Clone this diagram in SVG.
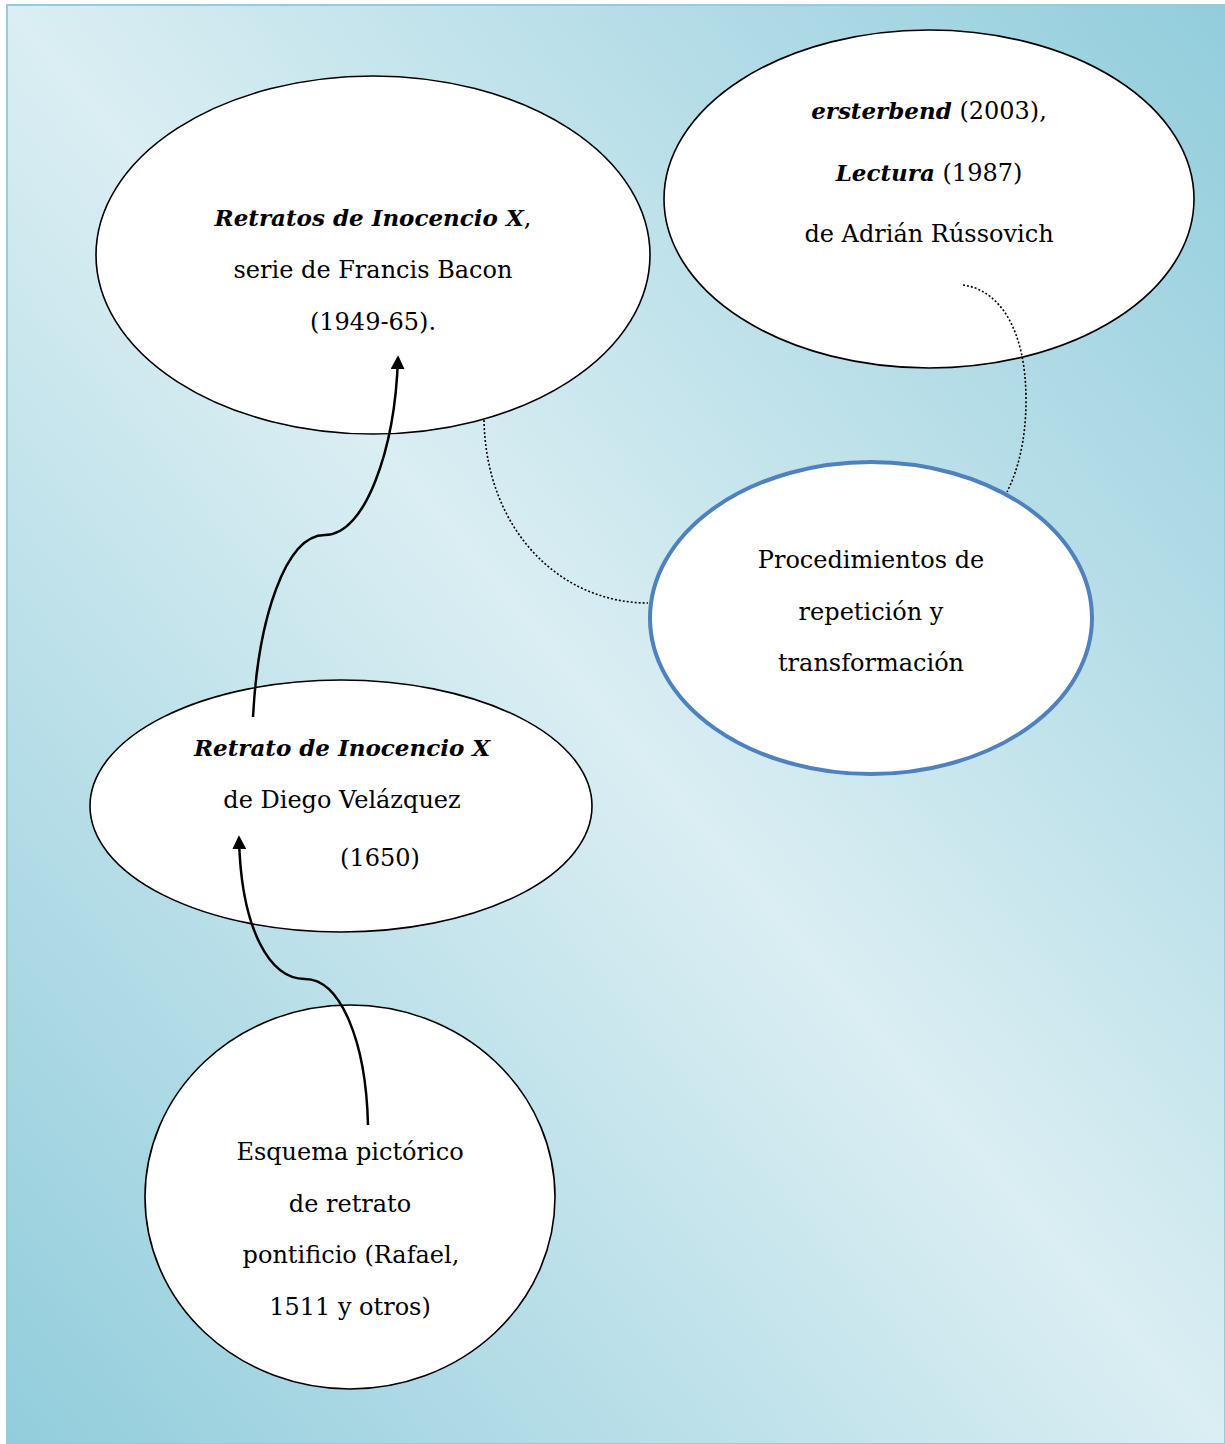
<svg xmlns="http://www.w3.org/2000/svg" width="1225" height="1444" viewBox="0 0 1225 1444">
<defs>
<linearGradient id="bg" x1="1" y1="0" x2="0" y2="1">
<stop offset="0" stop-color="#92cddc"/>
<stop offset="0.5" stop-color="#daeef3"/>
<stop offset="1" stop-color="#92cddc"/>
</linearGradient>
<marker id="arr" viewBox="0 0 10 10" refX="8" refY="5" markerWidth="14" markerHeight="14" markerUnits="userSpaceOnUse" orient="auto">
<path d="M0,0 L10,5 L0,10 Z" fill="#000"/>
</marker>
</defs>
<style>
.node{fill:#fff;stroke:#000;stroke-width:1.6}
.blue{fill:#fff;stroke:#4f81bd;stroke-width:4}
text{font-family:"DejaVu Serif","Liberation Serif",serif;font-size:24px;fill:#000;text-anchor:middle}
.bi{font-weight:bold;font-style:italic;font-size:23px}
.arrow{fill:none;stroke:#000;stroke-width:2.5}
.dot{fill:none;stroke:#000;stroke-width:1.6;stroke-dasharray:2 2}
</style>
<rect x="0" y="0" width="1225" height="1444" fill="#fff"/>
<rect x="7" y="5" width="1218" height="1439" fill="url(#bg)" stroke="#93cddd" stroke-width="2"/>
<g id="node-bacon">
<ellipse class="node" cx="373" cy="255" rx="277" ry="179"/>
<text x="373" y="226"><tspan class="bi">Retratos de Inocencio X</tspan>,</text>
<text x="373" y="278">serie de Francis Bacon</text>
<text x="373" y="330">(1949-65).</text>
</g>
<g id="node-russovich">
<ellipse class="node" cx="929" cy="199" rx="265" ry="169"/>
<text x="929" y="119"><tspan class="bi">ersterbend</tspan> (2003),</text>
<text x="929" y="181"><tspan class="bi">Lectura</tspan> (1987)</text>
<text x="929" y="242">de Adrián Rússovich</text>
</g>
<g id="node-procedimientos">
<ellipse class="blue" cx="871" cy="618" rx="221" ry="156"/>
<text x="871" y="568">Procedimientos de</text>
<text x="871" y="620">repetición y</text>
<text x="871" y="671">transformación</text>
</g>
<g id="node-velazquez">
<ellipse class="node" cx="341" cy="806" rx="251" ry="126"/>
<text x="342" y="756" class="bi">Retrato de Inocencio X</text>
<text x="342" y="808">de Diego Velázquez</text>
<text x="380" y="866">(1650)</text>
</g>
<g id="node-esquema">
<ellipse class="node" cx="350" cy="1197" rx="205" ry="192"/>
<text x="350" y="1160">Esquema pictórico</text>
<text x="350" y="1212">de retrato</text>
<text x="351" y="1263">pontificio (Rafael,</text>
<text x="350" y="1315">1511 y otros)</text>
</g>
<g id="connectors">
<path class="arrow" marker-end="url(#arr)" d="M253,717 C258,620 285,535 325,535 C365,535 395,450 398,358"/>
<path class="arrow" marker-end="url(#arr)" d="M368,1125 C366,1040 340,979 305,979 C270,979 241,930 239,838"/>
<path class="dot" d="M484,420 C486,530 560,603 648,603"/>
<path class="dot" d="M963,285 C1000,290 1026,330 1026,400 C1026,440 1018,470 1007,492"/>
</g>
</svg>
